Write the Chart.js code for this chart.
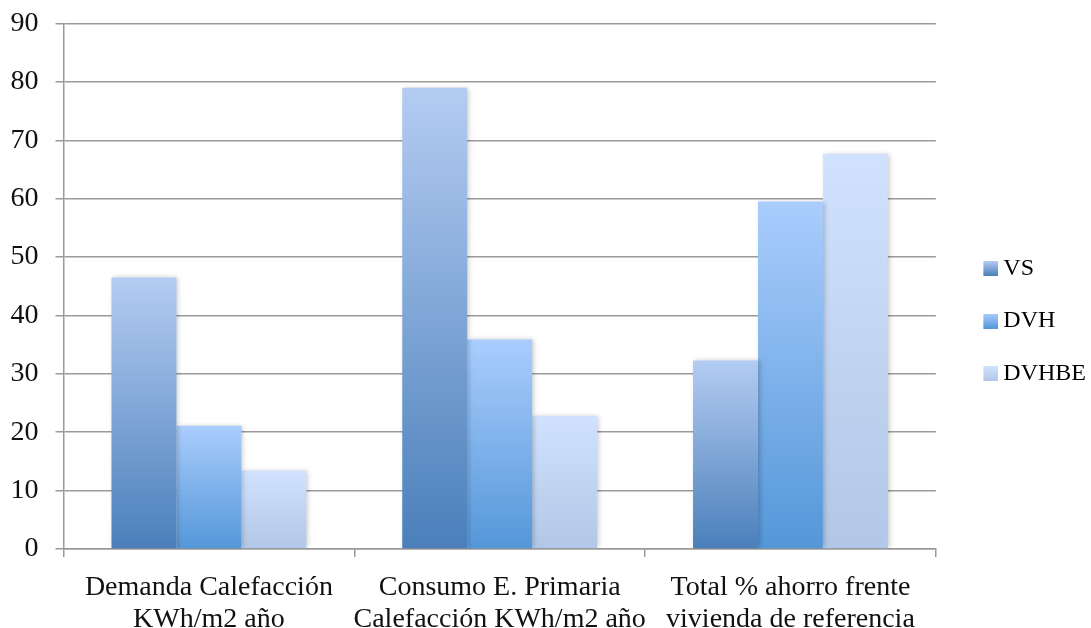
<!DOCTYPE html>
<html>
<head>
<meta charset="utf-8">
<script src="https://cdn.jsdelivr.net/npm/chart.js@4/dist/chart.umd.min.js"></script>
<style>
  html, body { margin: 0; padding: 0; background: #fff; }
  #wrap { width: 1091px; height: 628px; position: relative; }
</style>
</head>
<body>
<div id="wrap"><canvas id="c" width="1091" height="628"></canvas></div>
<script>
// Categories (two-line labels)
const categories = [
  ['Demanda Calefacción', 'KWh/m2 año'],
  ['Consumo E. Primaria', 'Calefacción KWh/m2 año'],
  ['Total % ahorro frente', 'vivienda de referencia']
];

// Series values
const vsValues    = [46.5, 79.0, 32.3];
const dvhValues   = [21.1, 35.9, 59.5];
const dvhbeValues = [13.4, 22.8, 67.7];

// Y axis ticks
const yTicks = [0, 10, 20, 30, 40, 50, 60, 70, 80, 90];

const seriesNames = ['VS', 'DVH', 'DVHBE'];

// Gradient stops per series: [top, bottom]
const palette = {
  VS:    ['#b4ccf2', '#4a7fba'],
  DVH:   ['#aacdfd', '#5497d9'],
  DVHBE: ['#d0e2fd', '#b2c7e7']
};

function barGradient(name) {
  return function (ctx) {
    const chart = ctx.chart;
    const cols = palette[name];
    if (!chart.chartArea || ctx.type !== 'data') return cols[1];
    const y = chart.scales.y;
    const top = y.getPixelForValue(ctx.raw);
    const base = y.getPixelForValue(0);
    const g = chart.ctx.createLinearGradient(0, top, 0, base);
    g.addColorStop(0, cols[0]);
    g.addColorStop(1, cols[1]);
    return g;
  };
}

// Legend swatch: small gradient square, drawn at the right of a wider
// transparent canvas so that it sits close to its label
function swatch(name) {
  const c = document.createElement('canvas');
  c.width = 29; c.height = 15;
  const x = c.getContext('2d');
  const g = x.createLinearGradient(0, 0, 0, 15);
  g.addColorStop(0, palette[name][0]);
  g.addColorStop(1, palette[name][1]);
  x.fillStyle = g;
  x.fillRect(14, 0, 15, 15);
  return c;
}

// Soft drop shadow behind the bars
const barShadow = {
  id: 'barShadow',
  beforeDatasetsDraw(chart) {
    const c = chart.ctx;
    c.save();
    c.shadowColor = 'rgba(0,0,0,0.22)';
    c.shadowBlur = 5;
    c.shadowOffsetX = 2;
    c.shadowOffsetY = 0;
  },
  afterDatasetsDraw(chart) {
    chart.ctx.restore();
  }
};

// Nudge the legend block towards the right margin
const legendNudge = {
  id: 'legendNudge',
  afterLayout(chart) {
    const l = chart.legend;
    if (!l) return;
    l.left += 12; l.right += 12;
    l.top += 7; l.bottom += 7;
  }
};

const serif = "'Liberation Serif', 'DejaVu Serif', serif";

new Chart(document.getElementById('c'), {
  type: 'bar',
  data: {
    labels: categories,
    datasets: [
      { label: seriesNames[0], data: vsValues,    backgroundColor: barGradient('VS') },
      { label: seriesNames[1], data: dvhValues,   backgroundColor: barGradient('DVH') },
      { label: seriesNames[2], data: dvhbeValues, backgroundColor: barGradient('DVHBE') }
    ]
  },
  options: {
    responsive: false,
    animation: false,
    devicePixelRatio: 1,
    layout: { padding: { top: 0, left: 10, right: 7, bottom: 0 } },
    datasets: {
      bar: { categoryPercentage: 0.67, barPercentage: 1.0, borderWidth: 0 }
    },
    plugins: {
      tooltip: { enabled: false },
      legend: {
        position: 'right',
        align: 'center',
        labels: {
          usePointStyle: true,
          pointStyleWidth: 15,
          boxWidth: 15,
          boxHeight: 15,
          padding: 28.5,
          color: '#111',
          font: { family: serif, size: 24 },
          generateLabels(chart) {
            return chart.data.datasets.map((ds, i) => ({
              text: ds.label,
              pointStyle: swatch(ds.label),
              fillStyle: palette[ds.label][1],
              strokeStyle: 'rgba(0,0,0,0)',
              lineWidth: 0,
              hidden: false,
              datasetIndex: i
            }));
          }
        }
      }
    },
    scales: {
      x: {
        offset: true,
        afterFit(axis) { axis.height = 79; },
        grid: {
          display: true,
          drawOnChartArea: false,
          drawTicks: true,
          tickLength: 8,
          color: '#9a9a9a',
          lineWidth: 1.5,
          offset: true
        },
        border: { display: true, color: '#9a9a9a', width: 1.5 },
        ticks: {
          color: '#111',
          padding: 15,
          maxRotation: 0,
          autoSkip: false,
          font: { family: serif, size: 28, lineHeight: 1.13 }
        }
      },
      y: {
        min: yTicks[0],
        max: yTicks[yTicks.length - 1],
        afterBuildTicks(axis) {
          axis.ticks = yTicks.map(v => ({ value: v }));
        },
        afterFit(axis) {
          axis.width = 53.5;
          axis.paddingTop = 23.5;
          axis.paddingBottom = 0;
        },
        grid: {
          color: '#9a9a9a',
          lineWidth: 1.5,
          tickLength: 8
        },
        border: { display: true, color: '#9a9a9a', width: 1.5 },
        ticks: {
          color: '#111',
          padding: 17,
          font: { family: serif, size: 28 }
        }
      }
    }
  },
  plugins: [barShadow, legendNudge]
});
</script>
</body>
</html>
